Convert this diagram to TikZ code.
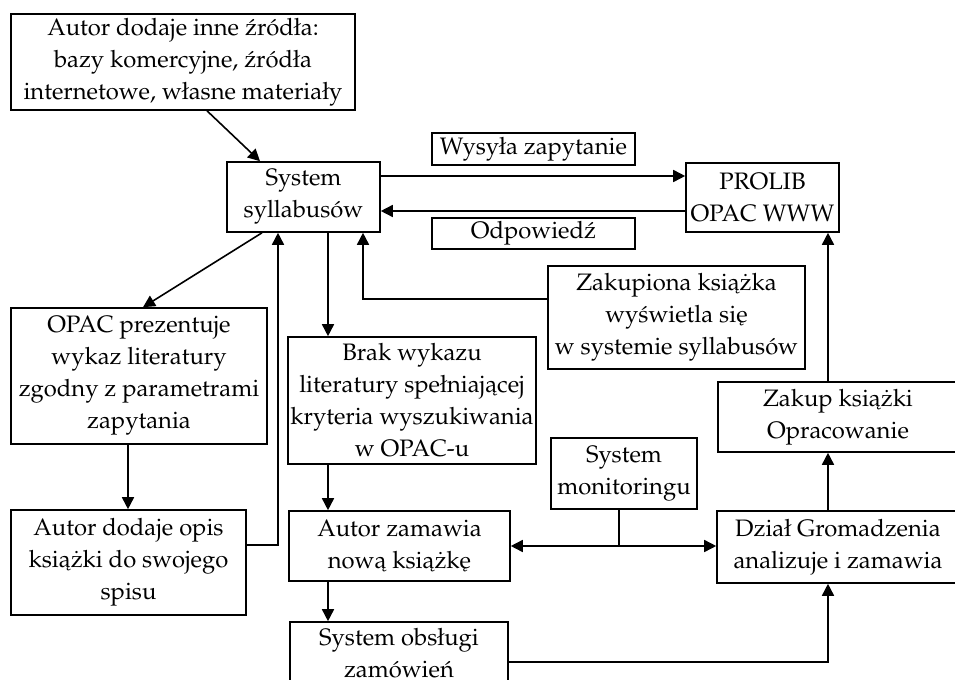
\documentclass[tikz,border=0pt]{standalone}
\usepackage[T1]{fontenc}
\usepackage{mathpazo}
\usepackage{tikz}
\usetikzlibrary{arrows.meta}
\tikzset{
  box/.style={draw, line width=0.8pt, align=center, inner sep=0pt, font=\fontsize{11.9}{16}\selectfont},
  link/.style={line width=0.8pt, -{Triangle[length=6pt,width=6pt]}}
}
\begin{document}
\begin{tikzpicture}[line cap=butt,line join=miter,x=0.5pt,y=-0.5pt]
                \useasboundingbox (0,0) rectangle (955,680);
                \node [box, minimum width=172pt, minimum height=48pt] (src) at (183,62) {Autor dodaje inne \'zr\'od\l{}a:\\bazy komercyjne, \'zr\'od\l{}a\\internetowe, w\l{}asne materia\l{}y};
                \node [box, minimum width=76.5pt, minimum height=35pt] (sys) at (303.5,197) {System\\syllabus\'ow};
                \node [box, minimum width=101.5pt, minimum height=16pt] (query) at (533.5,149) {Wysy\l{}a zapytanie};
                \node [box, minimum width=76.5pt, minimum height=34.5pt] (prolib) at (762.5,197.5) {PROLIB\\OPAC WWW};
                \node [box, minimum width=101.5pt, minimum height=15.5pt] (answer) at (533.5,233.5) {Odpowied\'z};
                \node [box, minimum width=128.5pt, minimum height=51.5pt] (bought) at (676.5,317.5) {Zakupiona ksi\k{a}\.zka\\wy\'swietla si\k{e}\\w systemie syllabus\'ow};
                \node [box, minimum width=120pt, minimum height=35pt] (buy) at (838,417) {Zakup ksi\k{a}\.zki\\Opracowanie};
                \node [box, minimum width=128pt, minimum height=68pt] (opac) at (139,376) {OPAC prezentuje\\wykaz literatury\\zgodny z parametrami\\zapytania};
                \node [box, minimum width=124pt, minimum height=63.5pt] (none) at (412,400.5) {Brak wykazu\\literatury spe\l{}niaj\k{a}cej\\kryteria wyszukiwania\\w OPAC-u};
                \node [box, minimum width=73pt, minimum height=35.5pt] (monitor) at (624,473.5) {System\\monitoringu};
                \node [box, minimum width=117.5pt, minimum height=52.5pt] (desc) at (128.5,562.5) {Autor dodaje opis\\ksi\k{a}\.zki do swojego\\spisu};
                \node [box, minimum width=110.5pt, minimum height=35pt] (order) at (399.5,546) {Autor zamawia\\now\k{a} ksi\k{a}\.zk\k{e}};
                \node [box, minimum width=121pt, minimum height=36pt] (dept) at (838,547) {Dzia\l{} Gromadzenia\\analizuje i zamawia};
                \node [box, minimum width=109pt, minimum height=31pt] (orders) at (399,653) {System obs\l{}ugi\\zam\'owie\'n};
                \draw [link] (src.south -| 207,0) -- (sys.north -| 260,0);
                \draw [link] (sys.east |- 0,176) -- (prolib.west |- 0,176);
                \draw [link] (prolib.west |- 0,211) -- (sys.east |- 0,211);
                \draw [link] (sys.south -| 262,0) -- (opac.north -| 143,0);
                \draw [link] (sys.south -| 328,0) -- (none.north -| 328,0);
                \draw [link] (bought.west |- 0,299) -| (sys.south -| 363,0);
                \draw [link] (desc.east |- 0,545) -| (sys.south -| 278,0);
                \draw [link] (opac.south -| 128,0) -- (desc.north -| 128,0);
                \draw [link] (none.south -| 328,0) -- (order.north -| 328,0);
                \draw [link] (order.south -| 328,0) -- (orders.north -| 328,0);
                \draw [link] (orders.east |- 0,662) -| (dept.south -| 828,0);
                \draw [link] (dept.north -| 828,0) -- (buy.south -| 828,0);
                \draw [link] (buy.north -| 828,0) -- (prolib.south -| 828,0);
                \draw [line width=0.8pt] (monitor.south -| 619,0) -- (619,546) coordinate (split);
                \draw [link] (split) -- (order.east |- split);
                \draw [link] (split) -- (dept.west |- split);
\end{tikzpicture}
\end{document}
